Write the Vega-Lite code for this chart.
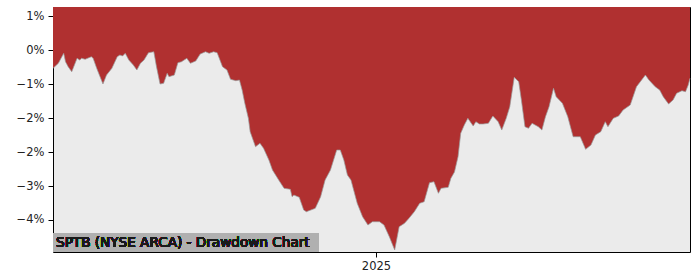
{
  "$schema": "https://vega.github.io/schema/vega-lite/v6.json",
  "width": 637,
  "height": 245,
  "autosize": {"type": "none"},
  "padding": {"left": 53, "top": 7, "right": 10, "bottom": 28},
  "config": {
    "view": {"fill": "#ebebeb", "stroke": "#000000", "strokeWidth": 1},
    "font": "DejaVu Sans"
  },
  "data": {"values": [
    {"date":"2024-01-05","dd":-0.404},{"date":"2024-01-11","dd":-0.293},{"date":"2024-01-17","dd":-0.073},{"date":"2024-01-19","dd":-0.258},
    {"date":"2024-01-22","dd":-0.368},{"date":"2024-01-26","dd":-0.479},{"date":"2024-02-01","dd":-0.183},{"date":"2024-02-04","dd":-0.221},
    {"date":"2024-02-06","dd":-0.183},{"date":"2024-02-10","dd":-0.205},{"date":"2024-02-17","dd":-0.148},{"date":"2024-02-19","dd":-0.183},
    {"date":"2024-02-23","dd":-0.404},{"date":"2024-03-01","dd":-0.750},{"date":"2024-03-05","dd":-0.552},{"date":"2024-03-11","dd":-0.404},
    {"date":"2024-03-17","dd":-0.148},{"date":"2024-03-20","dd":-0.110},{"date":"2024-03-23","dd":-0.132},{"date":"2024-03-26","dd":-0.073},
    {"date":"2024-03-30","dd":-0.221},{"date":"2024-04-04","dd":-0.331},{"date":"2024-04-08","dd":-0.441},{"date":"2024-04-12","dd":-0.293},
    {"date":"2024-04-16","dd":-0.221},{"date":"2024-04-21","dd":-0.060},{"date":"2024-04-27","dd":-0.038},{"date":"2024-04-30","dd":-0.368},
    {"date":"2024-05-04","dd":-0.750},{"date":"2024-05-08","dd":-0.735},{"date":"2024-05-12","dd":-0.514},{"date":"2024-05-14","dd":-0.589},
    {"date":"2024-05-20","dd":-0.552},{"date":"2024-05-24","dd":-0.280},{"date":"2024-05-28","dd":-0.258},{"date":"2024-06-03","dd":-0.183},
    {"date":"2024-06-07","dd":-0.293},{"date":"2024-06-13","dd":-0.243},{"date":"2024-06-18","dd":-0.088},{"date":"2024-06-24","dd":-0.038},
    {"date":"2024-06-28","dd":-0.073},{"date":"2024-07-03","dd":-0.038},{"date":"2024-07-07","dd":-0.060},{"date":"2024-07-13","dd":-0.368},
    {"date":"2024-07-18","dd":-0.441},{"date":"2024-07-22","dd":-0.646},{"date":"2024-07-28","dd":-0.677},{"date":"2024-08-01","dd":-0.662},
    {"date":"2024-08-04","dd":-0.882},{"date":"2024-08-07","dd":-1.176},{"date":"2024-08-11","dd":-1.507},{"date":"2024-08-13","dd":-1.802},
    {"date":"2024-08-19","dd":-2.133},{"date":"2024-08-24","dd":-2.058},{"date":"2024-08-28","dd":-2.169},{"date":"2024-09-03","dd":-2.427},
    {"date":"2024-09-07","dd":-2.647},{"date":"2024-09-14","dd":-2.868},{"date":"2024-09-20","dd":-3.051},{"date":"2024-09-27","dd":-3.073},
    {"date":"2024-09-29","dd":-3.236},{"date":"2024-10-01","dd":-3.199},{"date":"2024-10-07","dd":-3.250},{"date":"2024-10-12","dd":-3.530},
    {"date":"2024-10-15","dd":-3.567},{"date":"2024-10-20","dd":-3.530},{"date":"2024-10-25","dd":-3.492},{"date":"2024-10-31","dd":-3.236},
    {"date":"2024-11-05","dd":-2.868},{"date":"2024-11-11","dd":-2.647},{"date":"2024-11-18","dd":-2.206},{"date":"2024-11-22","dd":-2.206},
    {"date":"2024-11-26","dd":-2.427},{"date":"2024-11-30","dd":-2.758},{"date":"2024-12-04","dd":-2.868},{"date":"2024-12-11","dd":-3.382},
    {"date":"2024-12-17","dd":-3.677},{"date":"2024-12-23","dd":-3.861},{"date":"2024-12-28","dd":-3.788},{"date":"2025-01-05","dd":-3.788},
    {"date":"2025-01-10","dd":-3.861},{"date":"2025-01-16","dd":-4.119},{"date":"2025-01-22","dd":-4.412},{"date":"2025-01-27","dd":-3.898},
    {"date":"2025-02-02","dd":-3.823},{"date":"2025-02-07","dd":-3.713},{"date":"2025-02-13","dd":-3.567},{"date":"2025-02-19","dd":-3.382},
    {"date":"2025-02-24","dd":-3.347},{"date":"2025-03-02","dd":-2.927},{"date":"2025-03-07","dd":-2.905},{"date":"2025-03-12","dd":-3.161},
    {"date":"2025-03-15","dd":-3.051},{"date":"2025-03-23","dd":-3.029},{"date":"2025-03-26","dd":-2.830},{"date":"2025-03-30","dd":-2.691},
    {"date":"2025-04-03","dd":-2.354},{"date":"2025-04-06","dd":-1.838},{"date":"2025-04-10","dd":-1.655},{"date":"2025-04-14","dd":-1.507},
    {"date":"2025-04-20","dd":-1.677},{"date":"2025-04-23","dd":-1.582},{"date":"2025-04-27","dd":-1.632},{"date":"2025-05-01","dd":-1.632},
    {"date":"2025-05-07","dd":-1.617},{"date":"2025-05-12","dd":-1.456},{"date":"2025-05-18","dd":-1.582},{"date":"2025-05-22","dd":-1.765},
    {"date":"2025-05-27","dd":-1.507},{"date":"2025-05-31","dd":-1.251},{"date":"2025-06-05","dd":-0.602},{"date":"2025-06-10","dd":-0.699},
    {"date":"2025-06-13","dd":-1.103},{"date":"2025-06-17","dd":-1.692},{"date":"2025-06-21","dd":-1.727},{"date":"2025-06-25","dd":-1.617},
    {"date":"2025-07-02","dd":-1.692},{"date":"2025-07-06","dd":-1.765},{"date":"2025-07-10","dd":-1.471},{"date":"2025-07-14","dd":-1.251},
    {"date":"2025-07-19","dd":-0.845},{"date":"2025-07-22","dd":-1.030},{"date":"2025-07-29","dd":-1.176},{"date":"2025-08-04","dd":-1.471},
    {"date":"2025-08-10","dd":-1.913},{"date":"2025-08-18","dd":-1.913},{"date":"2025-08-24","dd":-2.191},{"date":"2025-08-30","dd":-2.096},
    {"date":"2025-09-04","dd":-1.875},{"date":"2025-09-10","dd":-1.802},{"date":"2025-09-15","dd":-1.582},{"date":"2025-09-18","dd":-1.692},
    {"date":"2025-09-24","dd":-1.507},{"date":"2025-09-30","dd":-1.456},{"date":"2025-10-05","dd":-1.324},{"date":"2025-10-13","dd":-1.213},
    {"date":"2025-10-20","dd":-0.810},{"date":"2025-10-30","dd":-0.552},{"date":"2025-11-03","dd":-0.662},{"date":"2025-11-10","dd":-0.810},
    {"date":"2025-11-15","dd":-0.882},{"date":"2025-11-19","dd":-1.030},{"date":"2025-11-25","dd":-1.191},{"date":"2025-11-30","dd":-1.103},
    {"date":"2025-12-04","dd":-0.955},{"date":"2025-12-10","dd":-0.898},{"date":"2025-12-14","dd":-0.920},{"date":"2025-12-17","dd":-0.772},
    {"date":"2025-12-19","dd":-0.624}
  ]},
  "layer": [
    {
      "mark": {"type": "area", "color": "#b03030"},
      "encoding": {
        "x": {"field": "date", "type": "temporal",
              "scale": {"type": "utc", "nice": false, "domain": [{"year": 2024, "month": 1, "date": 5, "utc": true}, {"year": 2025, "month": 12, "date": 19, "utc": true}]},
              "axis": {"title": null, "values": [{"year": 2025, "month": 1, "date": 1, "utc": true}], "format": "%Y", "domain": false, "grid": false,
                       "tickColor": "#000", "tickSize": 5, "labelFontSize": 11.5, "labelColor": "#222", "labelPadding": 3, "labelFont": "DejaVu Sans"}},
        "y": {"field": "dd", "type": "quantitative",
              "scale": {"domain": [-4.456, 0.949], "nice": false, "zero": false},
              "axis": {"title": null, "values": [0.75, 0, -0.75, -1.5, -2.25, -3, -3.75], "labelExpr": "format(datum.value, '.0f') + '%'",
                       "domain": false, "grid": false, "tickColor": "#000", "tickSize": 5, "labelFontSize": 11.5, "labelColor": "#222", "labelPadding": 4, "labelFont": "DejaVu Sans"}},
        "y2": {"datum": 0.949}
      }
    },
    {
      "mark": {"type": "line", "color": "#999999", "strokeWidth": 0.7},
      "encoding": {
        "x": {"field": "date", "type": "temporal"},
        "y": {"field": "dd", "type": "quantitative"}
      }
    },
    {
      "mark": {"type": "rect", "color": "#b0b0b0"},
      "encoding": {
        "x": {"datum": {"year": 2024, "month": 1, "date": 5, "utc": true}},
        "x2": {"datum": {"year": 2024, "month": 10, "date": 29, "utc": true}},
        "y": {"datum": -4.456},
        "y2": {"datum": -4.037}
      }
    },
    {
      "mark": {"type": "text", "align": "left", "baseline": "alphabetic", "dx": 3, "dy": -5, "fontSize": 13.6, "font": "DejaVu Sans", "fontWeight": "normal", "fill": "#1a1a1a"},
      "encoding": {
        "x": {"datum": {"year": 2024, "month": 1, "date": 5, "utc": true}},
        "y": {"datum": -4.456},
        "text": {"value": "SPTB (NYSE ARCA) - Drawdown Chart"}
      }
    }
  ]
}
